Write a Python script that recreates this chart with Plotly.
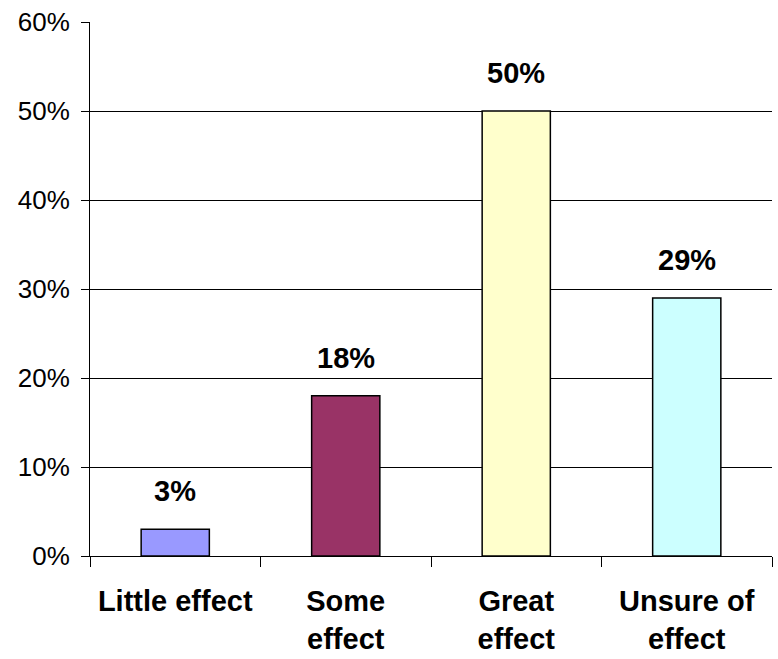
import plotly.graph_objects as go

# Survey responses: share of respondents per answer
categories = ["Little effect", "Some effect", "Great effect", "Unsure of effect"]
tick_labels = ["Little effect", "Some<br>effect", "Great<br>effect", "Unsure of<br>effect"]
shares = [3, 18, 50, 29]
bar_colors = ["#9999FF", "#993366", "#FFFFCC", "#CCFFFF"]

FONT = "Liberation Sans, Arial, sans-serif"

fig = go.Figure()
fig.add_trace(go.Bar(
    x=categories,
    y=shares,
    width=0.4,
    marker=dict(color=bar_colors, line=dict(color="black", width=1.5)),
    hoverinfo="skip",
))

# value labels above each bar
for cat, val in zip(categories, shares):
    fig.add_annotation(
        x=cat, y=val, text=f"<b>{val}%</b>", showarrow=False,
        yanchor="bottom", yshift=20,
        font=dict(family=FONT, size=29, color="black"),
    )

fig.update_layout(
    width=778, height=659,
    margin=dict(l=90, r=6, t=22, b=103),
    paper_bgcolor="white", plot_bgcolor="white",
    showlegend=False,
    font=dict(family=FONT, color="black"),
)
fig.update_xaxes(
    type="category",
    tickmode="array", tickvals=categories,
    ticktext=[f"<b>{t}</b>" for t in tick_labels],
    tickson="boundaries", ticks="outside", ticklen=10, tickcolor="black", tickwidth=1,
    showline=True, linecolor="black", linewidth=1,
    tickfont=dict(family=FONT, size=29, color="black"),
    ticklabelstandoff=19,
    range=[-0.5, 3.5],
    showgrid=False, zeroline=False,
    automargin=False,
)
fig.update_yaxes(
    range=[0, 60], tickvals=[0, 10, 20, 30, 40, 50, 60],
    ticktext=[f"{v}%" for v in [0, 10, 20, 30, 40, 50, 60]],
    ticks="outside", ticklen=8, tickcolor="black", tickwidth=1,
    showline=True, linecolor="black", linewidth=1,
    showgrid=True, gridcolor="black", gridwidth=1,
    zeroline=False,
    tickfont=dict(family=FONT, size=26, color="black"),
    ticklabelstandoff=6,
    automargin=False,
)

fig.write_html("out.html")
